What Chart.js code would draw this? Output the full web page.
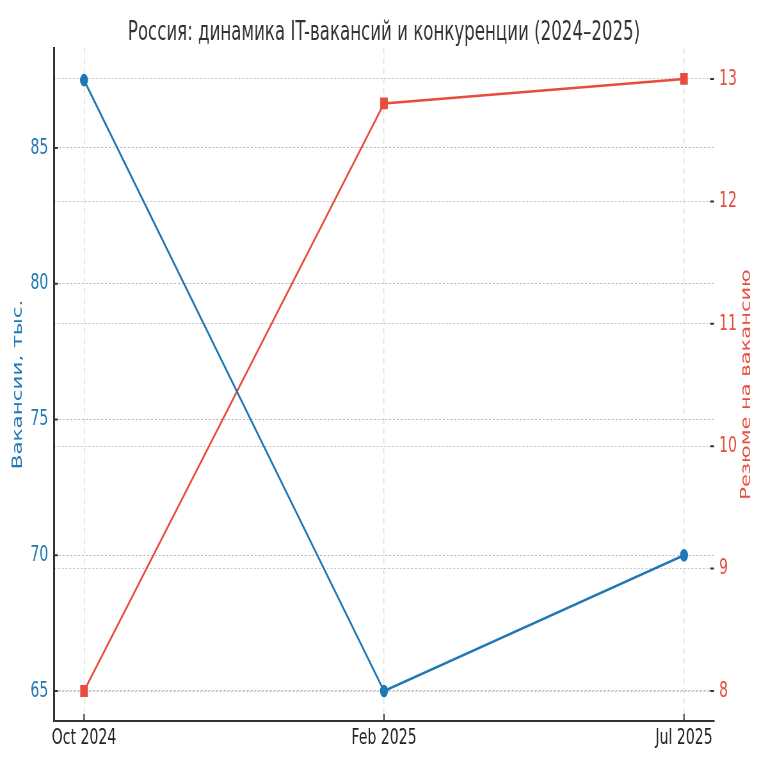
<!DOCTYPE html>
<html>
<head>
<meta charset="utf-8">
<script src="https://cdn.jsdelivr.net/npm/chart.js@4/dist/chart.umd.min.js"></script>
<style>
html,body{margin:0;padding:0;background:#fff;overflow:hidden;width:768px;height:768px;}
#wrap{width:1200px;height:768px;transform:scaleX(0.64);transform-origin:0 0;}
</style>
</head>
<body>
<div id="wrap"><canvas id="c" width="1200" height="768"></canvas></div>
<script>
const categories = ['Oct 2024', 'Feb 2025', 'Jul 2025'];
const vacancies = [87.5, 65, 70];
const resumesPerVacancy = [8, 12.8, 13];
const leftTicks = [65, 70, 75, 80, 85];
const rightTicks = [8, 9, 10, 11, 12, 13];
const titleText = 'Россия: динамика IT-вакансий и конкуренции (2024–2025)';
const leftTitle = 'Вакансии, тыс.';
const rightTitle = 'Резюме на вакансию';

const BLUE = '#1f77b4';
const RED = '#e74c3c';
const FONT = '"DejaVu Sans", sans-serif';

const decor = {
  id: 'decor',
  afterDraw(chart) {
    const {ctx, chartArea: a, scales} = chart;
    ctx.save();
    ctx.strokeStyle = '#333';
    ctx.lineWidth = 2;
    ctx.setLineDash([]);
    ctx.beginPath();
    scales.x.ticks.forEach(t => {
      const p = scales.x.getPixelForValue(t.value);
      ctx.moveTo(p, a.bottom); ctx.lineTo(p, a.bottom - 7);
    });
    scales.y.ticks.forEach(t => {
      const p = scales.y.getPixelForValue(t.value);
      ctx.moveTo(a.left, p); ctx.lineTo(a.left + 6, p);
    });
    scales.y1.ticks.forEach(t => {
      const p = scales.y1.getPixelForValue(t.value);
      ctx.moveTo(a.right, p); ctx.lineTo(a.right - 6, p);
    });
    ctx.stroke();
    const cy = (a.top + a.bottom) / 2;
    ctx.textAlign = 'center';
    ctx.textBaseline = 'middle';
    ctx.font = '21.5px ' + FONT;
    ctx.fillStyle = BLUE;
    ctx.save(); ctx.translate(28, cy); ctx.rotate(-Math.PI / 2); ctx.fillText(leftTitle, 0, 0); ctx.restore();
    ctx.font = '21px ' + FONT;
    ctx.fillStyle = RED;
    ctx.save(); ctx.translate(1167, cy); ctx.rotate(-Math.PI / 2); ctx.fillText(rightTitle, 0, 0); ctx.restore();
    ctx.restore();
  }
};

new Chart(document.getElementById('c'), {
  type: 'line',
  data: {
    datasets: [
      {
        label: leftTitle,
        data: vacancies.map((v, i) => ({x: i, y: v})),
        yAxisID: 'y',
        borderColor: BLUE,
        backgroundColor: BLUE,
        borderWidth: 2.6,
        pointStyle: 'circle',
        pointRadius: 5,
        pointHoverRadius: 5,
        tension: 0
      },
      {
        label: rightTitle,
        data: resumesPerVacancy.map((v, i) => ({x: i, y: v})),
        yAxisID: 'y1',
        borderColor: RED,
        backgroundColor: RED,
        borderWidth: 2.6,
        pointStyle: 'rect',
        pointRadius: 6.5,
        pointHoverRadius: 6.5,
        tension: 0
      }
    ]
  },
  options: {
    responsive: false,
    animation: false,
    devicePixelRatio: 1,
    layout: {padding: 0},
    plugins: {
      legend: {display: false},
      tooltip: {enabled: false},
      title: {
        display: true,
        text: titleText,
        color: '#333',
        font: {family: FONT, size: 26, weight: 'normal', lineHeight: 1.1},
        padding: {top: 19.4, bottom: 0}
      }
    },
    scales: {
      x: {
        type: 'linear',
        min: -0.1,
        max: 2.1,
        afterBuildTicks: s => { s.ticks = categories.map((c, i) => ({value: i})); },
        afterFit: s => { s.height = 47; },
        ticks: {
          callback: v => categories[v],
          color: '#222',
          font: {family: FONT, size: 22},
          padding: 4,
          maxRotation: 0,
          autoSkip: false
        },
        grid: {color: '#dedede', lineWidth: 1.5, drawTicks: false},
        border: {display: true, color: '#333', width: 2, dash: [6, 4]}
      },
      y: {
        type: 'linear',
        position: 'left',
        min: 63.895,
        max: 88.683,
        afterBuildTicks: s => { s.ticks = leftTicks.map(v => ({value: v})); },
        afterFit: s => { s.width = 84.4; },
        ticks: {color: BLUE, font: {family: FONT, size: 22}, padding: 9},
        grid: {color: '#b8b8b8', lineWidth: 1, drawTicks: false},
        border: {display: true, color: '#333', width: 3, dash: [3, 3]}
      },
      y1: {
        type: 'linear',
        position: 'right',
        min: 7.755,
        max: 13.253,
        afterBuildTicks: s => { s.ticks = rightTicks.map(v => ({value: v})); },
        afterFit: s => { s.width = 84.4; },
        ticks: {color: RED, font: {family: FONT, size: 22}, padding: 8},
        grid: {color: '#c4c4c4', lineWidth: 1, drawTicks: false},
        border: {display: false, dash: [3, 3]}
      }
    }
  },
  plugins: [decor]
});
</script>
</body>
</html>
